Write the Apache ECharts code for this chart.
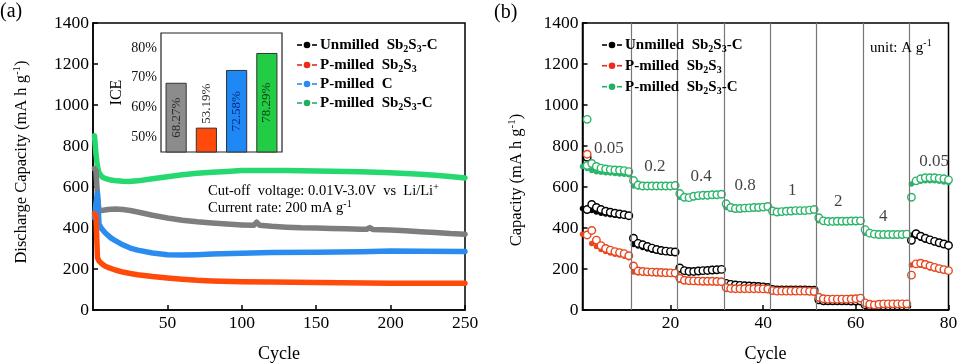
<!DOCTYPE html>
<html><head><meta charset="utf-8">
<script src="https://cdn.jsdelivr.net/npm/echarts@6/dist/echarts.min.js"></script>
<style>html,body{margin:0;padding:0;background:#fff}#c{width:957px;height:364px}</style>
</head><body><div id="c"></div>
<script>
// ---------- Panel (a): cycling at 200 mA g-1 ----------
const cycA_green = [1,2,3,4,6,8,12,16,20,24,30,40,50,60,70,80,90,100,110,120,130,140,150,160,170,180,190,200,210,220,230,240,250];
const capA_green = [850,760,700,670,650,642,634,630,628,627,630,640,650,660,667,672,676,680,681,681,680,679,678,677,676,674,672,669,666,662,657,651,644];
const cycA_gray = [1,2,3,4,6,10,15,20,25,30,40,50,60,70,80,90,100,108,110,112,120,130,140,150,160,170,180,184,186,188,200,210,220,230,240,250];
const capA_gray = [690,680,560,488,485,490,493,490,485,478,462,449,438,430,424,419,415,413,428,413,408,404,401,400,398,396,394,394,402,393,390,386,382,378,373,370];
const cycA_blue = [1,2,3,4,5,6,8,10,12,15,20,25,30,40,50,60,70,80,100,120,150,180,200,220,250];
const capA_blue = [450,520,570,420,405,395,378,365,352,338,318,302,292,278,270,268,270,273,277,280,282,284,288,287,285];
const cycA_red = [1,2,3,4,5,6,8,10,15,20,25,30,40,50,60,70,80,100,120,150,200,250];
const capA_red = [470,460,255,240,232,225,215,208,195,185,178,172,163,156,150,145,142,138,136,134,131,130];

// inset ICE bars
const iceCats = ['Unmilled Sb2S3-C','P-milled Sb2S3','P-milled C','P-milled Sb2S3-C'];
const iceValues = [68.27, 53.19, 72.58, 78.29];
const iceTicks = [50, 60, 70, 80];

// ---------- Panel (b): rate capability ----------
const blackOutlier = 745, redOutlier = 760, greenOutlier = 930, outlierCycle = 2;
// open circles, cycles 2..80
const blackOpen = [490,515,500,490,482,477,472,468,465,460, 350,325,318,310,302,295,290,287,285,283, 205,192,188,188,190,192,193,195,196,198, 130,125,122,120,118,117,116,115,113,110, 100,98,98,98,98,98,98,98,97,97, 50,45,45,45,45,45,45,44,44,44, 25,20,20,20,20,20,20,20,20,20, 340,372,360,350,342,335,328,322,315];
const redOpen = [366,388,341,314,300,292,285,280,275,265, 215,190,188,186,185,184,183,182,181,180, 155,145,143,142,141,140,140,140,139,138, 110,105,104,104,104,104,104,104,103,102, 95,92,92,92,92,92,92,92,91,90, 62,55,53,53,53,53,53,54,55,58, 35,28,25,28,30,30,30,30,30,30, 170,225,228,222,215,208,202,197,192];
const greenOpen = [705,715,700,692,688,685,683,682,680,675, 632,610,605,605,605,605,605,605,605,607, 568,550,548,555,558,560,560,562,562,565, 518,500,495,495,497,498,500,500,502,505, 483,478,480,482,483,485,485,485,487,490, 450,435,432,432,433,433,433,434,434,435, 392,375,370,368,368,368,368,368,368,370, 550,630,640,645,645,645,642,640,635];
// filled dots, cycles 1..80
const blackFilled = [495, 490,485,478,472,468,465,462,460,458,455, 320,312,305,298,292,288,285,282,280,278, 195,188,186,186,188,190,191,193,194,195, 125,120,118,116,115,114,113,112,111,108, 97,96,96,96,96,96,96,96,95,95, 45,42,42,42,42,42,42,42,42,42, 20,18,18,18,18,18,18,18,18,18, 365,360,350,342,335,328,322,316,310];
const redFilled = [370, 365,325,310,295,285,278,272,268,262,255, 185,182,181,180,180,179,179,178,178,177, 145,140,138,137,137,137,137,136,136,135, 100,100,100,100,100,100,100,100,99,98, 90,89,89,89,89,89,89,89,88,88, 55,52,51,51,51,51,51,52,52,53, 30,25,22,25,27,27,27,27,27,27, 220,222,218,212,205,200,195,190,185];
const greenFilled = [700, 690,680,675,672,670,668,666,664,662,660, 605,600,598,598,598,598,598,598,598,600, 550,545,545,548,550,552,553,555,556,558, 500,492,492,493,494,495,496,497,498,500, 478,476,478,480,481,482,483,484,485,487, 435,430,430,430,430,431,431,432,432,432, 375,368,366,366,366,366,366,366,366,367, 615,625,628,630,630,630,628,625,622];
const rateBoundaries = [11.5, 21.5, 31.5, 41.5, 51.5, 61.5, 71.5];
const rateLabels = ['0.05','0.2','0.4','0.8','1','2','4','0.05'];
const rateLabelX = [6.7, 16.6, 26.6, 36.1, 46.3, 56.2, 65.9, 76.9];
const rateLabelY = [790, 702, 649, 605, 585, 527, 454, 722];
const xTicksB = [20, 40, 60, 80];

const FONT = 'Liberation Serif';
const zip = (xs, ys) => xs.map((x, i) => [x, ys[i]]);
const openCycles = blackOpen.map((_, i) => i + 2);
const filledCycles = blackFilled.map((_, i) => i + 1);

const chart = echarts.init(document.getElementById('c'), null, {renderer: 'canvas', width: 957, height: 364});

const axLine = {show: true, lineStyle: {color: '#000', width: 1.5}};
const axTick = {show: true, inside: true, length: 5, lineStyle: {color: '#000', width: 1.5}};
const axLabel = {color: '#000', fontFamily: FONT, fontSize: 17.5, margin: 4, formatter: v => String(v)};

const richBase = (fs, color, weight) => ({
  n: {fontFamily: FONT, fontSize: fs, color: color, fontWeight: weight, lineHeight: fs + 4, verticalAlign: 'middle'},
  sub: {fontFamily: FONT, fontSize: Math.round(fs * 0.68), color: color, fontWeight: weight, lineHeight: Math.round(fs * 0.68) + 2, verticalAlign: 'bottom'},
  sup: {fontFamily: FONT, fontSize: Math.round(fs * 0.68), color: color, fontWeight: weight, lineHeight: Math.round(fs * 0.68) + 2, verticalAlign: 'top'}
});

function txt(x, y, text, fs, opts) {
  opts = opts || {};
  return {
    type: 'text', x: x, y: y, rotation: opts.rotation || 0, silent: true, z: 50,
    style: {text: text, rich: richBase(fs, opts.color || '#111', opts.weight || 'normal'),
      fontFamily: FONT, fontSize: fs,
      align: opts.align || 'left', verticalAlign: 'middle'}
  };
}
function legendMarker(x, y, color) {
  return [
    {type: 'line', shape: {x1: x, y1: y, x2: x + 5, y2: y}, style: {stroke: color, lineWidth: 1.6}, silent: true, z: 50},
    {type: 'circle', shape: {cx: x + 10, cy: y, r: 3.3}, style: {fill: color}, silent: true, z: 50},
    {type: 'line', shape: {x1: x + 15, y1: y, x2: x + 20, y2: y}, style: {stroke: color, lineWidth: 1.6}, silent: true, z: 50}
  ];
}

const legendA = [
  ['{n|Unmilled  Sb}{sub|2}{n|S}{sub|3}{n|-C}', '#000'],
  ['{n|P-milled  Sb}{sub|2}{n|S}{sub|3}', '#ee2a1a'],
  ['{n|P-milled  C}', '#2b8cf0'],
  ['{n|P-milled  Sb}{sub|2}{n|S}{sub|3}{n|-C}', '#22b060']
];
const legendAY = [45, 65, 84, 103];
const legendB = [legendA[0], legendA[1], legendA[3]];
const legendBY = [45, 65.7, 86.7];

const graphics = [];
graphics.push(txt(0, 12, '{n|(a)}', 20, {color: '#000'}));
graphics.push(txt(494, 13, '{n|(b)}', 20, {color: '#000'}));
graphics.push(txt(22, 162, '{n|Discharge Capacity (mA h g}{sup|-1}{n|)}', 16.5, {rotation: Math.PI / 2, align: 'center', color: '#000'}));
graphics.push(txt(517, 180, '{n|Capacity (mA h g}{sup|-1}{n|)}', 16.5, {rotation: Math.PI / 2, align: 'center', color: '#000'}));
graphics.push(txt(208, 191.5, '{n|Cut-off  voltage: 0.01V-3.0V  vs  Li/Li}{sup|+}', 14.5, {color: '#111'}));
graphics.push(txt(208, 208.5, '{n|Current rate: 200 mA g}{sup|-1}', 14.5, {color: '#111'}));
graphics.push(txt(870, 48, '{n|unit: A g}{sup|-1}', 15, {color: '#111'}));
legendA.forEach((l, i) => {
  graphics.push(...legendMarker(297, legendAY[i], l[1]));
  graphics.push(txt(320, legendAY[i], l[0], 15, {weight: 'bold', color: '#000'}));
});
legendB.forEach((l, i) => {
  graphics.push(...legendMarker(602, legendBY[i], l[1]));
  graphics.push(txt(625, legendBY[i], l[0], 15, {weight: 'bold', color: '#000'}));
});

const barColors = ['#8c8c8c', '#ff4a0a', '#1e88f5', '#22cc44'];
const barLabelColors = ['#2a2a2a', '#2a2a2a', '#0d2b80', '#0b3d14'];

const colB = {black: '#000', red: '#e8461e', green: '#2bb56a'};
function openSeries(cyc, vals, color, extra) {
  const d = zip(cyc, vals);
  if (extra != null) d.unshift([outlierCycle, extra]);
  return {type: 'scatter', xAxisIndex: 2, yAxisIndex: 2, data: d, symbol: 'circle', symbolSize: 7.5,
    itemStyle: {color: '#fff', borderColor: color, borderWidth: 1.4, opacity: 1}, silent: true, animation: false};
}
function filledSeries(cyc, vals, color) {
  return {type: 'scatter', xAxisIndex: 2, yAxisIndex: 2, data: zip(cyc, vals), symbol: 'circle', symbolSize: 5.5,
    itemStyle: {color: color, opacity: 1}, silent: true, animation: false};
}
function lineA(cyc, vals, color) {
  return {type: 'line', xAxisIndex: 0, yAxisIndex: 0, data: zip(cyc, vals), showSymbol: false, symbol: 'none',
    lineStyle: {width: 5.5, color: color, cap: 'round', join: 'round'}, silent: true, animation: false};
}

const option = {
  backgroundColor: '#fff',
  animation: false,
  textStyle: {fontFamily: FONT},
  grid: [
    {left: 93, top: 23, width: 372, height: 287, show: true, borderColor: '#000', borderWidth: 1.5, backgroundColor: 'transparent', containLabel: false, outerBoundsMode: 'none'},
    {left: 161, top: 33, width: 121, height: 119, show: true, borderColor: '#222', borderWidth: 1.2, backgroundColor: '#fff', containLabel: false, outerBoundsMode: 'none', z: 5},
    {left: 582.5, top: 23, width: 366, height: 287, show: true, borderColor: '#000', borderWidth: 1.5, backgroundColor: 'transparent', containLabel: false, outerBoundsMode: 'none'}
  ],
  xAxis: [
    {gridIndex: 0, type: 'value', min: 0, max: 250, interval: 50, axisLine: axLine, axisTick: axTick,
      axisLabel: Object.assign({}, axLabel, {showMinLabel: false}), splitLine: {show: false},
      name: 'Cycle', nameLocation: 'middle', nameGap: 35, nameTextStyle: {fontFamily: FONT, fontSize: 18, color: '#000'}},
    {gridIndex: 1, type: 'category', data: iceCats, axisLine: {show: false}, axisTick: {show: false}, axisLabel: {show: false}, splitLine: {show: false}, z: 6},
    {gridIndex: 2, type: 'value', min: 1, max: 80, axisLine: axLine,
      axisTick: Object.assign({}, axTick, {customValues: xTicksB}),
      axisLabel: Object.assign({}, axLabel, {customValues: xTicksB}), splitLine: {show: false},
      name: 'Cycle', nameLocation: 'middle', nameGap: 35, nameTextStyle: {fontFamily: FONT, fontSize: 18, color: '#000'}}
  ],
  yAxis: [
    {gridIndex: 0, type: 'value', min: 0, max: 1400, interval: 200, axisLine: axLine, axisTick: axTick, axisLabel: axLabel, splitLine: {show: false}},
    {gridIndex: 1, type: 'value', min: 45, max: 85, axisLine: {show: false}, axisTick: {show: false},
      axisLabel: {customValues: iceTicks, formatter: v => v + '%', color: '#111', fontFamily: FONT, fontSize: 14, margin: 4},
      splitLine: {show: false}, name: 'ICE', nameLocation: 'middle', nameGap: 36, nameRotate: 90,
      nameTextStyle: {fontFamily: FONT, fontSize: 16, color: '#000'}, z: 6},
    {gridIndex: 2, type: 'value', min: 0, max: 1400, interval: 200, axisLine: axLine, axisTick: axTick, axisLabel: axLabel, splitLine: {show: false}}
  ],
  graphic: {elements: graphics},
  series: [
    lineA(cycA_green, capA_green, '#25d870'),
    lineA(cycA_gray, capA_gray, '#7e7e7e'),
    lineA(cycA_blue, capA_blue, '#2b8cf0'),
    lineA(cycA_red, capA_red, '#ff4a0a'),
    {type: 'bar', xAxisIndex: 1, yAxisIndex: 1, barWidth: '70%', silent: true, animation: false, z: 6,
      data: iceValues.map((v, i) => ({
        value: v,
        itemStyle: {color: barColors[i], borderColor: '#333', borderWidth: 1},
        label: i === 1
          ? {show: true, position: 'top', rotate: 90, align: 'left', verticalAlign: 'middle', distance: 4,
             formatter: v.toFixed(2) + '%', fontFamily: FONT, fontSize: 13, color: barLabelColors[i]}
          : {show: true, position: 'inside', rotate: 90, align: 'center', verticalAlign: 'middle',
             formatter: v.toFixed(2) + '%', fontFamily: FONT, fontSize: 13, color: barLabelColors[i]}
      }))},
    Object.assign(filledSeries(filledCycles, blackFilled, colB.black), {
      markLine: {silent: true, symbol: 'none', animation: false, label: {show: false},
        lineStyle: {color: '#777', width: 1.2, type: 'solid'},
        data: rateBoundaries.map(x => ({xAxis: x}))}
    }),
    openSeries(openCycles, blackOpen, colB.black, blackOutlier),
    filledSeries(filledCycles, redFilled, colB.red),
    openSeries(openCycles, redOpen, colB.red, redOutlier),
    filledSeries(filledCycles, greenFilled, colB.green),
    openSeries(openCycles, greenOpen, colB.green, greenOutlier),
    {type: 'scatter', xAxisIndex: 2, yAxisIndex: 2, symbolSize: 0, silent: true, animation: false, z: 10,
      data: rateLabels.map((t, i) => ({value: [rateLabelX[i], rateLabelY[i]], name: t})),
      label: {show: true, position: 'inside', formatter: p => p.name, fontFamily: FONT, fontSize: 17, color: '#111'}}
  ]
};
chart.setOption(option);
</script></body></html>
